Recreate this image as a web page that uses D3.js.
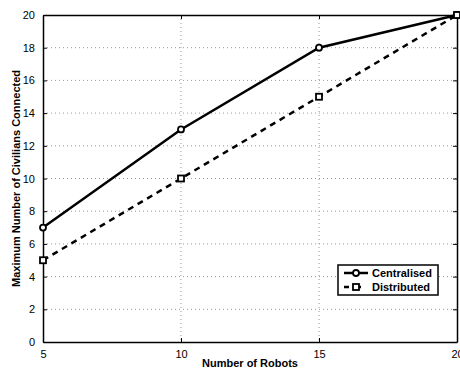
<!DOCTYPE html>
<html>
<head>
<meta charset="utf-8">
<script src="https://cdn.jsdelivr.net/npm/d3@7"></script>
<style>
body { margin: 0; background: #fff; }
svg { font-family: "Liberation Sans", Arial, sans-serif; }
</style>
</head>
<body>
<svg width="460" height="372"></svg>
<script>
const robots = [5, 10, 15, 20];
const centralised = [7, 13, 18, 20];
const distributed = [5, 10, 15, 20];
const xTicks = [5, 10, 15, 20];
const yTicks = [0, 2, 4, 6, 8, 10, 12, 14, 16, 18, 20];

const margin = { top: 15, right: 3, bottom: 30, left: 43 };
const width = 460 - margin.left - margin.right;
const height = 372 - margin.top - margin.bottom;

const svg = d3.select("svg");
const g = svg.append("g").attr("transform", "translate(" + margin.left + "," + margin.top + ")");

const x = d3.scaleLinear().domain([5, 20]).range([0, width]);
const y = d3.scaleLinear().domain([0, 20]).range([height, 0]);

// grid
g.append("g").selectAll("line").data(xTicks.slice(1, -1)).join("line")
	.attr("x1", d => x(d)).attr("x2", d => x(d)).attr("y1", 0).attr("y2", height)
	.attr("stroke", "#999").attr("stroke-width", 1).attr("stroke-dasharray", "1,3");
g.append("g").selectAll("line").data(yTicks.slice(1, -1)).join("line")
	.attr("x1", 0).attr("x2", width).attr("y1", d => y(d)).attr("y2", d => y(d))
	.attr("stroke", "#999").attr("stroke-width", 1).attr("stroke-dasharray", "1,3");

// axes with inward ticks
const xAxis = d3.axisBottom(x).tickValues(xTicks).tickSizeInner(-4).tickSizeOuter(0).tickPadding(8);
const yAxis = d3.axisLeft(y).tickValues(yTicks).tickSizeInner(-4).tickSizeOuter(0).tickPadding(8);
const xTop = d3.axisTop(x).tickValues(xTicks).tickSizeInner(-4).tickSizeOuter(0).tickFormat("");
const yRight = d3.axisRight(y).tickValues(yTicks).tickSizeInner(-4).tickSizeOuter(0).tickFormat("");

function style(sel) {
	sel.selectAll("path").attr("stroke", "#000").attr("stroke-width", 1.5);
	sel.selectAll("line").attr("stroke", "#000");
	sel.selectAll("text").attr("font-size", 11).attr("fill", "#000");
}

g.append("g").attr("transform", "translate(0," + height + ")").call(xAxis).call(style);
g.append("g").call(yAxis).call(style);
g.append("g").call(xTop).call(style);
g.append("g").attr("transform", "translate(" + width + ",0)").call(yRight).call(style);

// lines
const line = d3.line().x(d => x(d[0])).y(d => y(d[1]));
const cData = robots.map((r, i) => [r, centralised[i]]);
const dData = robots.map((r, i) => [r, distributed[i]]);

g.append("path").datum(cData).attr("d", line)
	.attr("fill", "none").attr("stroke", "#000").attr("stroke-width", 2.5);
g.append("path").datum(dData).attr("d", line)
	.attr("fill", "none").attr("stroke", "#000").attr("stroke-width", 2.5).attr("stroke-dasharray", "6,5");

g.append("g").selectAll("circle").data(cData).join("circle")
	.attr("cx", d => x(d[0])).attr("cy", d => y(d[1])).attr("r", 3)
	.attr("fill", "#fff").attr("stroke", "#000").attr("stroke-width", 1.8);
g.append("g").selectAll("rect").data(dData).join("rect")
	.attr("x", d => x(d[0]) - 3).attr("y", d => y(d[1]) - 3).attr("width", 6).attr("height", 6)
	.attr("fill", "#fff").attr("stroke", "#000").attr("stroke-width", 1.8);

// legend
const lg = svg.append("g").attr("transform", "translate(338,265)");
lg.append("rect").attr("width", 100).attr("height", 30)
	.attr("fill", "#fff").attr("stroke", "#000").attr("stroke-width", 1.5);
const items = [["Centralised", null], ["Distributed", "5,7"]];
items.forEach((it, i) => {
	const yy = 8 + i * 14;
	lg.append("line").attr("x1", 6).attr("x2", 30).attr("y1", yy).attr("y2", yy)
		.attr("stroke", "#000").attr("stroke-width", 2.5).attr("stroke-dasharray", it[1]);
	if (i === 0) {
		lg.append("circle").attr("cx", 18).attr("cy", yy).attr("r", 3)
			.attr("fill", "#fff").attr("stroke", "#000").attr("stroke-width", 1.8);
	} else {
		lg.append("rect").attr("x", 15).attr("y", yy - 3).attr("width", 6).attr("height", 6)
			.attr("fill", "#fff").attr("stroke", "#000").attr("stroke-width", 1.8);
	}
	lg.append("text").attr("x", 34).attr("y", yy + 4).text(it[0])
		.attr("font-size", 11).attr("font-weight", "bold");
});

// axis labels
svg.append("text").attr("x", margin.left + width / 2).attr("y", 367)
	.attr("text-anchor", "middle").attr("font-size", 11).attr("font-weight", "bold")
	.text("Number of Robots");
svg.append("text").attr("transform", "translate(20," + (margin.top + height / 2) + ") rotate(-90)")
	.attr("text-anchor", "middle").attr("font-size", 11).attr("font-weight", "bold")
	.text("Maximum Number of Civilians Connected");
</script>
</body>
</html>
